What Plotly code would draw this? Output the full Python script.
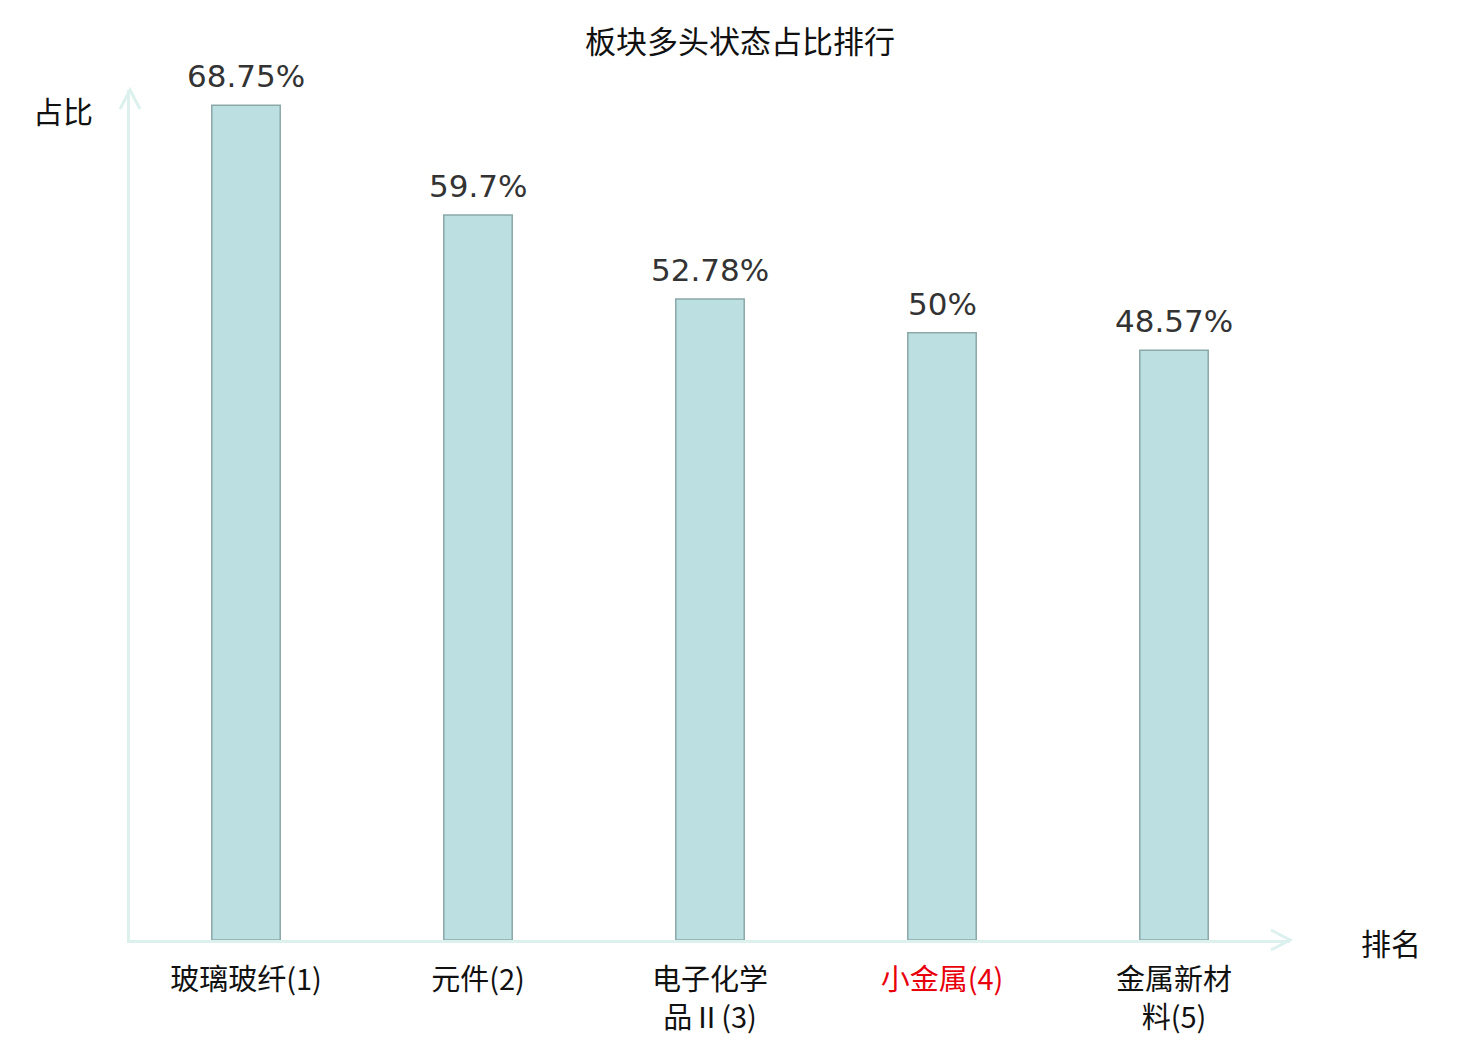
import plotly.graph_objects as go

# 板块多头状态占比排行
categories = ["玻璃玻纤(1)", "元件(2)", "电子化学<br>品Ⅱ(3)", "小金属(4)", "金属新材<br>料(5)"]
values = [68.75, 59.7, 52.78, 50, 48.57]
value_labels = ["68.75%", "59.7%", "52.78%", "50%", "48.57%"]
highlight = "小金属(4)"

AXIS_COLOR = "#dcf1ee"
CJK = "Noto Sans CJK SC"

tick_text = [
    f"<span style='color:#e8000b'>{c}</span>" if c == highlight else c
    for c in categories
]

fig = go.Figure()
fig.add_trace(go.Bar(
    x=categories,
    y=values,
    width=0.295,
    marker=dict(color="#bce0e2", line=dict(color="#8ba8a8", width=1.5)),
    hoverinfo="x+y",
))

# value labels above bars
for c, v, t in zip(categories, values, value_labels):
    fig.add_annotation(
        x=c, y=v, text=t, showarrow=False,
        yanchor="bottom", yshift=9,
        font=dict(family="DejaVu Sans", size=31, color="#333333"),
    )

# axis titles
fig.add_annotation(xref="paper", yref="paper", x=-0.058, y=0.976, text="占比",
                   showarrow=False, xanchor="center", yanchor="middle",
                   font=dict(family=CJK, size=30, color="#111111"))
fig.add_annotation(xref="paper", yref="paper", x=1.087, y=-0.002, text="排名",
                   showarrow=False, xanchor="center", yanchor="middle",
                   font=dict(family=CJK, size=30, color="#111111"))

# arrow heads on the axes
fig.add_shape(type="path", xref="paper", yref="paper", xsizemode="pixel", ysizemode="pixel",
              xanchor=1, yanchor=0, path="M -19,10 L 0,0 L -19,-10",
              line=dict(color=AXIS_COLOR, width=3))
fig.add_shape(type="path", xref="paper", yref="paper", xsizemode="pixel", ysizemode="pixel",
              xanchor=0, yanchor=1, path="M -10,-19 L 0,0 L 10,-19",
              line=dict(color=AXIS_COLOR, width=3))

fig.update_layout(
    width=1480, height=1040,
    margin=dict(l=122, r=198, t=82, b=102),
    paper_bgcolor="white", plot_bgcolor="white",
    showlegend=False,
    title=dict(text="板块多头状态占比排行", x=0.5 - 8 / 1480, xanchor="center",
               y=1 - 34 / 1040, yanchor="middle", yref="container",
               font=dict(family=CJK, size=31, color="#111111")),
    xaxis=dict(
        tickmode="array", tickvals=categories, ticktext=tick_text,
        showline=True, linecolor=AXIS_COLOR, linewidth=3,
        ticks="outside", ticklen=12, tickcolor="rgba(0,0,0,0)",
        showgrid=False, zeroline=False,
        tickfont=dict(family=CJK, size=29, color="#111111"),
    ),
    yaxis=dict(
        range=[0, 70], showline=True, linecolor=AXIS_COLOR, linewidth=3,
        showticklabels=False, ticks="", showgrid=False, zeroline=False,
    ),
)

fig.write_html("out.html")
